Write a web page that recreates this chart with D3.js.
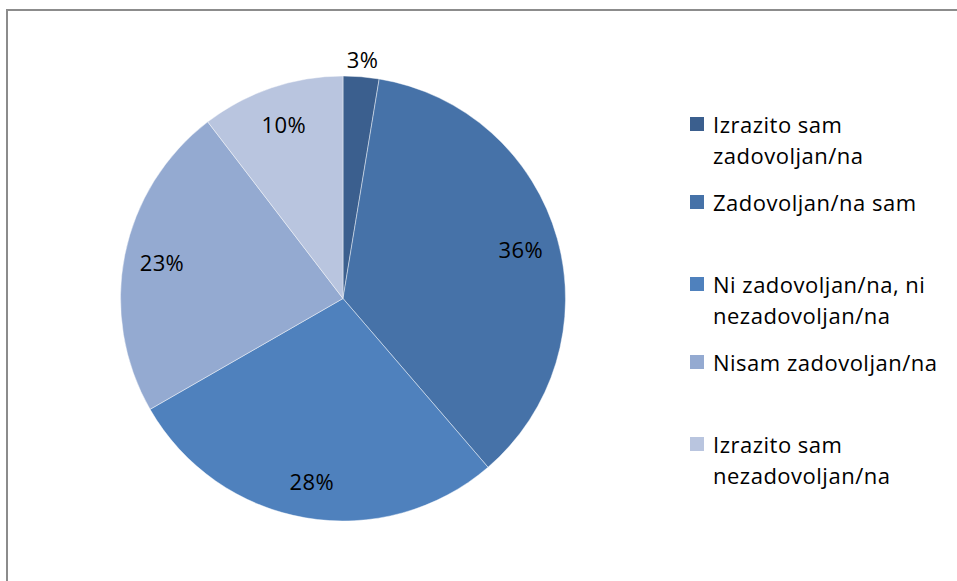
<!DOCTYPE html>
<html>
<head>
<meta charset="utf-8">
<script src="https://cdn.jsdelivr.net/npm/d3@7"></script>
<style>
  body { margin: 0; background: #fff; }
  svg { display: block; }
</style>
</head>
<body>
<svg id="chart"></svg>
<script>
// Data
const categories = [
  'Izrazito sam zadovoljan/na',
  'Zadovoljan/na sam',
  'Ni zadovoljan/na, ni nezadovoljan/na',
  'Nisam zadovoljan/na',
  'Izrazito sam nezadovoljan/na'
];
const legendLines = [
  ['Izrazito sam', 'zadovoljan/na'],
  ['Zadovoljan/na sam'],
  ['Ni zadovoljan/na, ni', 'nezadovoljan/na'],
  ['Nisam zadovoljan/na'],
  ['Izrazito sam', 'nezadovoljan/na']
];
const values = [2.6, 36.1, 28.0, 22.9, 10.4];
const colors = ['#3b5f8e', '#4672a8', '#4f81bd', '#94aad1', '#b9c5df'];

const width = 957, height = 581;
const font = 'Open Sans, sans-serif';
const fontSize = '22px';

const svg = d3.select('#chart')
  .attr('width', width)
  .attr('height', height);

// Frame (only top and left edges are visible in the crop)
svg.append('rect')
  .attr('x', 7)
  .attr('y', 10)
  .attr('width', 1200)
  .attr('height', 1200)
  .attr('fill', 'none')
  .attr('stroke', '#8c8c8c')
  .attr('stroke-width', 2);

const cx = 343, cy = 298.5, r = 222.5;
const data = values.map((v, i) => ({ name: categories[i], value: v, color: colors[i] }));

const pie = d3.pie().value(d => d.value).sort(null);
const arc = d3.arc().innerRadius(0).outerRadius(r);
const arcs = pie(data);

const g = svg.append('g').attr('transform', `translate(${cx}, ${cy})`);

g.selectAll('path.slice')
  .data(arcs)
  .join('path')
  .attr('class', 'slice')
  .attr('d', arc)
  .attr('fill', d => d.data.color)
  .attr('stroke', 'rgba(255,255,255,0.55)')
  .attr('stroke-width', 0.8);

// Percentage labels: inside, small slices outside
const inside = d3.arc().innerRadius(r * 0.83).outerRadius(r * 0.83);
const outside = d3.arc().innerRadius(r + 18).outerRadius(r + 18);

g.selectAll('text.pct')
  .data(arcs)
  .join('text')
  .attr('class', 'pct')
  .attr('transform', d => `translate(${(d.data.value < 5 ? outside : inside).centroid(d)})`)
  .attr('text-anchor', 'middle')
  .attr('dominant-baseline', 'central')
  .attr('font-family', font)
  .attr('font-size', fontSize)
  .attr('letter-spacing', '0.4px')
  .attr('fill', '#000')
  .text(d => `${Math.round(d.data.value)}%`);

// Legend
const legendX = 690;
const legendTop = [124, 202, 284, 362, 444];
const lineH = 31;

const legend = svg.append('g');
legendLines.forEach((lines, i) => {
  const y = legendTop[i];
  legend.append('rect')
    .attr('x', legendX)
    .attr('y', y - 7)
    .attr('width', 14)
    .attr('height', 14)
    .attr('fill', colors[i]);
  const t = legend.append('text')
    .attr('font-family', font)
    .attr('font-size', fontSize)
    .attr('letter-spacing', '0.5px')
    .attr('fill', '#000');
  lines.forEach((line, j) => {
    t.append('tspan')
      .attr('x', legendX + 23)
      .attr('y', y + j * lineH)
      .attr('dominant-baseline', 'central')
      .text(line);
  });
});
</script>
</body>
</html>
